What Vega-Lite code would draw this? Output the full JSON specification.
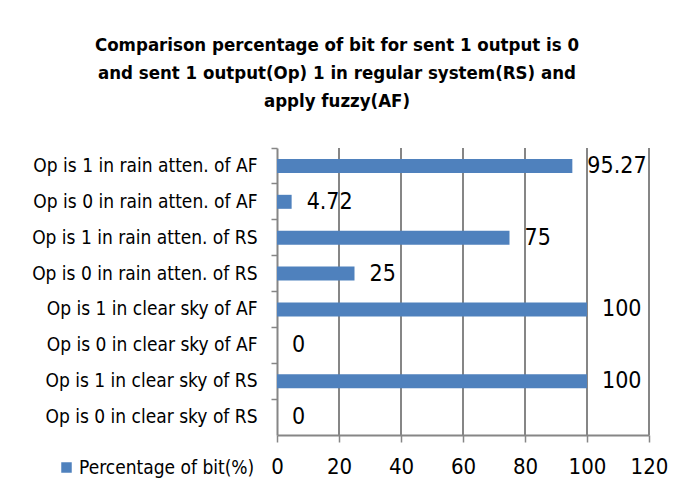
{
  "$schema": "https://vega.github.io/schema/vega-lite/v6.json",
  "autosize": "none",
  "width": 372,
  "height": 287,
  "padding": {"left": 277, "top": 148, "right": 40, "bottom": 67},
  "background": "white",
  "config": {
    "font": "DejaVu Sans Condensed",
    "view": {"stroke": null, "fill": null}
  },
  "title": {
    "text": ["Comparison percentage of bit for sent 1 output is 0", "and sent 1 output(Op) 1 in regular system(RS) and", "apply fuzzy(AF)"],
    "font": "DejaVu Sans Condensed",
    "fontSize": 18.5,
    "fontWeight": "bold",
    "color": "#000000",
    "lineHeight": 28,
    "anchor": "middle",
    "frame": "group",
    "dx": -126,
    "offset": 37
  },
  "datasets": {
    "bars": [
      {"category": "Op is 1 in rain atten. of AF", "value": 95.27, "label": "95.27", "series": "Percentage of bit(%)"},
      {"category": "Op is 0 in rain atten. of AF", "value": 4.72, "label": "4.72", "series": "Percentage of bit(%)"},
      {"category": "Op is 1 in rain atten. of RS", "value": 75, "label": "75", "series": "Percentage of bit(%)"},
      {"category": "Op is 0 in rain atten. of RS", "value": 25, "label": "25", "series": "Percentage of bit(%)"},
      {"category": "Op is 1 in clear sky of AF", "value": 100, "label": "100", "series": "Percentage of bit(%)"},
      {"category": "Op is 0 in clear sky of AF", "value": 0, "label": "0", "series": "Percentage of bit(%)"},
      {"category": "Op is 1 in clear sky of RS", "value": 100, "label": "100", "series": "Percentage of bit(%)"},
      {"category": "Op is 0 in clear sky of RS", "value": 0, "label": "0", "series": "Percentage of bit(%)"}
    ],
    "gridlines": [
      {"value": 20}, {"value": 40}, {"value": 60}, {"value": 80}, {"value": 100}, {"value": 120}
    ]
  },
  "layer": [
    {
      "data": {"name": "gridlines"},
      "mark": {"type": "rule", "color": "#868686", "strokeWidth": 2},
      "encoding": {
        "x": {"field": "value", "type": "quantitative"}
      }
    },
    {
      "data": {"name": "bars"},
      "mark": {"type": "bar", "height": 14, "color": "#4F81BD"},
      "encoding": {
        "y": {
          "field": "category",
          "type": "nominal",
          "sort": null,
          "scale": {"paddingInner": 0, "paddingOuter": 0},
          "axis": {
            "title": null,
            "bandPosition": 0,
            "labelFontSize": 19,
            "labelColor": "#000000",
            "labelPadding": 14,
            "tickSize": 6,
            "tickWidth": 1.5,
            "tickColor": "#868686",
            "domainColor": "#868686",
            "domainWidth": 2,
            "grid": false,
            "labelLimit": 300
          }
        },
        "x": {
          "field": "value",
          "type": "quantitative",
          "scale": {"domain": [0, 120], "nice": false},
          "axis": {
            "title": null,
            "tickCount": 6,
            "labelOverlap": false,
            "labelFlush": false,
            "labelFontSize": 22,
            "labelColor": "#000000",
            "labelPadding": 14,
            "tickSize": 7,
            "tickWidth": 1.5,
            "tickColor": "#868686",
            "domainColor": "#868686",
            "domainWidth": 2,
            "grid": false
          }
        },
        "color": {
          "field": "series",
          "type": "nominal",
          "scale": {"range": ["#4F81BD"]},
          "legend": {
            "title": null,
            "orient": "none",
            "legendX": -220,
            "legendY": 310,
            "symbolType": "square",
            "symbolSize": 110,
            "symbolStrokeWidth": 0,
            "labelFontSize": 19,
            "labelColor": "#000000",
            "labelOffset": 3,
            "labelLimit": 300
          }
        }
      }
    },
    {
      "data": {"name": "bars"},
      "mark": {"type": "text", "align": "left", "baseline": "middle", "dx": 15, "fontSize": 23, "color": "#000000"},
      "encoding": {
        "y": {"field": "category", "type": "nominal", "sort": null},
        "x": {"field": "value", "type": "quantitative"},
        "text": {"field": "label"}
      }
    }
  ]
}
